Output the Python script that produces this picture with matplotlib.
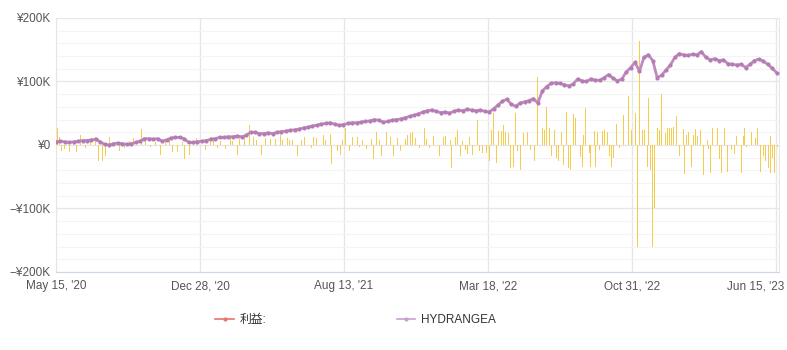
import numpy as np
import matplotlib.pyplot as plt
from matplotlib.lines import Line2D
from matplotlib.ticker import MultipleLocator, FuncFormatter
from matplotlib.transforms import ScaledTranslation
plt.switch_backend('agg')

plt.rcParams['font.family'] = ['Liberation Sans', 'Noto Sans CJK JP']

# x axis labels (one every 228 steps)
tick_labels = ["May 15, '20", "Dec 28, '20", "Aug 13, '21",
               "Mar 18, '22", "Oct 31, '22", "Jun 15, '23"]
tick_step = 228

# HYDRANGEA cumulative value (K yen), one point every 7 steps
line_vals = [
    5, 6, 5, 4, 5, 6, 7, 7, 8, 9,
    5, 1, 0, 2, 3, 2, 1, 2, 4, 6,
    10, 10, 9, 10, 6, 8, 11, 12, 12, 10,
    4, 4, 5, 6, 7, 9, 10, 12, 12, 13,
    13, 14, 13, 15, 20, 20, 18, 18, 19, 18,
    20, 21, 22, 23, 24, 25, 27, 28, 30, 31,
    33, 34, 35, 33, 31, 32, 34, 35, 35, 36,
    37, 38, 40, 39, 36, 37, 39, 40, 41, 43,
    45, 47, 49, 52, 54, 55, 53, 51, 52, 50,
    53, 55, 54, 56, 55, 54, 55, 53, 52, 57,
    63, 69, 72, 64, 61, 66, 68, 70, 73, 66,
    85, 92, 97, 98, 97, 95, 93, 96, 104, 101,
    100, 104, 102, 102, 106, 111, 105, 101, 104, 115,
    122, 130, 116, 138, 142, 133, 106, 110, 118, 126,
    138, 144, 142, 141, 143, 142, 147, 138, 134, 136,
    133, 134, 128, 127, 126, 127, 122, 127, 133, 135,
    132, 127, 121, 114,
]
line_step = 7

# profit bars: position and value (K yen)
bar_pos = [
    2, 5, 8, 13, 21, 27, 33, 38, 46, 54, 62, 68, 73, 79, 85, 93, 101, 109,
    117, 123, 135, 141, 150, 157, 165, 173, 180, 184, 190, 193, 200, 204,
    209, 212, 217, 222, 228, 236, 244, 249, 255, 261, 268, 276, 280, 287,
    291, 299, 307, 312, 318, 326, 331, 339, 347, 355, 359, 366, 370, 375,
    380, 383, 389, 393, 399, 404, 407, 412, 418, 423, 427, 434, 436, 445,
    450, 454, 459, 464, 469, 477, 481, 486, 491, 499, 503, 508, 513, 516,
    521, 524, 529, 534, 541, 545, 553, 556, 562, 565, 570, 575, 583, 586,
    592, 598, 608, 614, 617, 624, 627, 632, 636, 640, 644, 648, 652, 655,
    660, 668, 671, 676, 682, 687, 690, 693, 697, 701, 705, 708, 712, 716,
    719, 725, 728, 731, 736, 741, 746, 749, 752, 757, 762, 771, 774, 777,
    782, 785, 789, 792, 795, 800, 803, 809, 812, 815, 820, 823, 830, 833,
    836, 839, 845, 847, 852, 854, 857, 861, 865, 869, 874, 877, 880, 883,
    888, 893, 898, 901, 907, 912, 918, 921, 924, 929, 932, 936, 939, 942,
    945, 948, 953, 956, 959, 965, 969, 972, 975, 978, 983, 987, 993, 996,
    999, 1002, 1007, 1010, 1013, 1016, 1020, 1023, 1026, 1031, 1034, 1037,
    1040, 1047, 1050, 1054, 1058, 1061, 1064, 1069, 1075, 1078, 1085, 1088,
    1091, 1094, 1099, 1102, 1108, 1111, 1115, 1118, 1121, 1124, 1128, 1131,
    1132, 1135, 1138, 1142,
]
bar_vals = [
    27, 13, -10, -6, -11, 5, -11, 16, -5, 6, 13, -26, -26, -18, 13, 5, -10, -4,
    6, 11, 25, 11, -3, 5, -16, 6, 11, -11, 16, -11, 5, -22,
    -16, -16, 6, 11, 5, -8, 13, 6, -5, 7, -7, 11, 6, -16,
    13, 15, 31, 13, 8, -16, 11, 9, 10, 15, 8, 11, 8, 8,
    8, -18, 8, 13, 20, -5, 13, 11, 8, 15, 8, 17, -30, -10,
    -15, 8, 27, -10, 13, 12, -3, 8, -6, 10, -22, 20, 8, -17,
    -31, 21, 13, -18, 11, -10, 9, 15, 19, 21, 11, -5, 27, 10,
    -4, 14, -18, 12, 14, 8, -37, 12, 24, -18, 6, -8, -14, 12,
    -16, 40, -10, -12, -13, -26, 24, 51, -28, 22, 22, 31, 20, 19,
    -37, -34, 51, -10, -40, 19, 20, -8, -8, -25, 107, 27, 24, 60,
    27, -18, 24, -20, -26, 20, -31, 52, -36, -39, 49, 42, -19, -34,
    16, 58, -13, -35, 22, -35, 21, -8, 22, 24, 21, -18, -34, -20,
    33, -5, 47, 19, 77, 24, 50, -161, 163, 24, 24, -35, 74, -39,
    -161, -99, 27, 24, 80, 19, 27, 27, 27, 28, 46, -17, 25, -45,
    16, 20, -35, 16, 25, 14, 24, -47, -47, 8, -6, -44,
    27, 27, -22, -44, 27, -13, -42, -8, -14, 14, -44, 14,
    27, -3, 38, 20, 11, 27, -42, 14, -17, -26, -36, -44,
    14, -20, -44, -3,
]

line_x = np.arange(len(line_vals)) * line_step
line_y = np.array(line_vals) * 1000
bar_y = np.array(bar_vals) * 1000

fig = plt.figure(figsize=(7.87, 3.5), dpi=100)
ax = fig.add_axes([0.0712, 0.2229, 0.9187, 0.7257])

ax.bar(bar_pos, bar_y, width=1.5, color='#f6cc4e', linewidth=0, zorder=2)
ax.plot(line_x, line_y, '-o', color='#c08ac0', lw=2.0, markersize=3.0,
        markerfacecolor='#b47cb3', markeredgewidth=0, zorder=3)

ax.set_xlim(0, 1145)
ax.set_ylim(-200000, 200000)

ax.set_xticks(np.arange(len(tick_labels)) * tick_step)
ax.set_xticklabels(tick_labels)
ax.yaxis.set_major_locator(MultipleLocator(100000))
ax.yaxis.set_minor_locator(MultipleLocator(20000))


def yen(v, pos):
    if v == 0:
        return '¥0'
    s = '¥%dK' % abs(round(v / 1000))
    return ('−' + s) if v < 0 else s


ax.yaxis.set_major_formatter(FuncFormatter(yen))

ax.grid(True, which='major', color='#e6e6e6', lw=0.9, zorder=0)
ax.grid(True, which='minor', axis='y', color='#f4f4f4', lw=0.8, zorder=0)
ax.set_axisbelow(True)

ax.spines['top'].set_visible(False)
ax.spines['right'].set_color('#e6e6e6')
ax.spines['left'].set_color('#e6e6e6')
ax.spines['bottom'].set_color('#ccd6eb')
ax.tick_params(axis='both', which='both', length=0, labelsize=8.5,
               colors='#555555')
ax.tick_params(axis='x', pad=6)
ax.tick_params(axis='y', pad=4)

# keep the last date label inside the figure
last = ax.get_xticklabels()[-1]
last.set_horizontalalignment('right')
last.set_transform(last.get_transform() +
                   ScaledTranslation(8 / 100, 0, fig.dpi_scale_trans))

handles = [
    Line2D([], [], color='#e8746a', lw=1.2, marker='o', markersize=2),
    Line2D([], [], color='#c9a0d2', lw=1.2, marker='o', markersize=2),
]
fig.legend(handles, ['利益:', 'HYDRANGEA'], loc='center',
           bbox_to_anchor=(0.452, 0.086), ncol=2, frameon=False,
           fontsize=8.5, handlelength=1.6, handletextpad=0.5,
           columnspacing=11, labelcolor='#333333')

fig.savefig('out.png', dpi=100)
